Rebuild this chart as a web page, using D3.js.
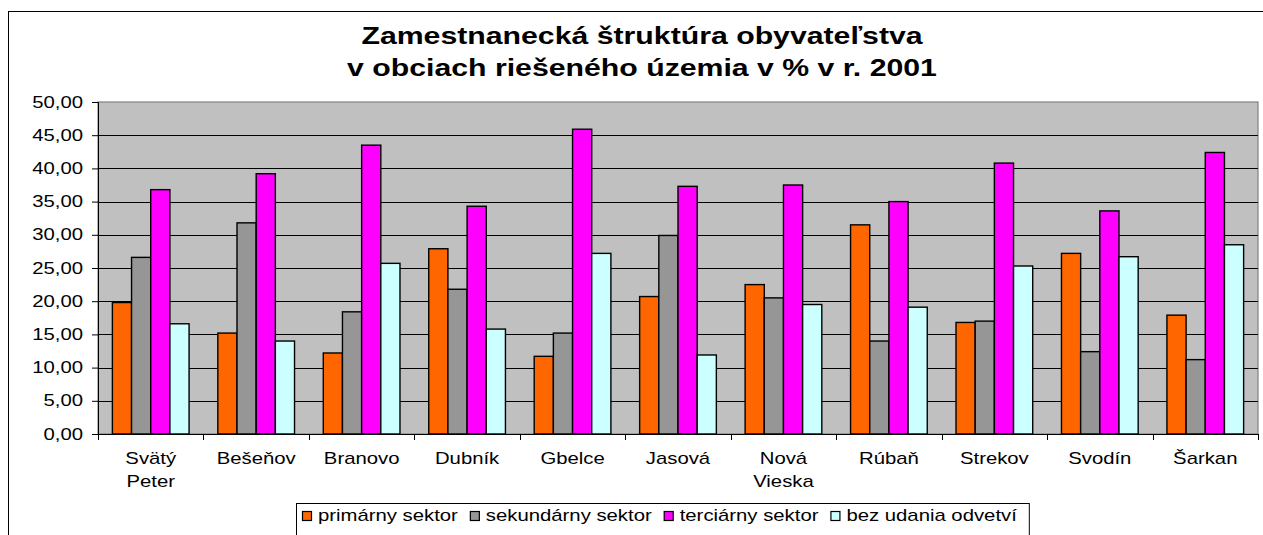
<!DOCTYPE html>
<html>
<head>
<meta charset="utf-8">
<script src="https://cdn.jsdelivr.net/npm/d3@7"></script>
<style>
  html, body { margin: 0; padding: 0; background: #fff; }
  svg { display: block; }
  text { font-family: "Liberation Sans", Arial, sans-serif; fill: #000; }
</style>
</head>
<body>
<svg id="chart" width="1263" height="535"></svg>
<script>
// ---- data ----
const titleLines = ["Zamestnanecká štruktúra obyvateľstva", "v obciach riešeného územia v % v r. 2001"];
const categories = ["Svätý Peter", "Bešeňov", "Branovo", "Dubník", "Gbelce", "Jasová", "Nová Vieska", "Rúbaň", "Strekov", "Svodín", "Šarkan"];
const seriesNames = ["primárny sektor", "sekundárny sektor", "terciárny sektor", "bez udania odvetví"];
const primarny   = [19.8, 15.2, 12.2, 27.9, 11.7, 20.7, 22.5, 31.5, 16.8, 27.2, 17.9];
const sekundarny = [26.6, 31.8, 18.4, 21.8, 15.2, 29.9, 20.5, 14.0, 17.0, 12.4, 11.2];
const terciarny  = [36.8, 39.2, 43.5, 34.3, 45.9, 37.3, 37.5, 35.0, 40.8, 33.6, 42.4];
const bezUdania  = [16.6, 14.0, 25.7, 15.8, 27.2, 11.9, 19.5, 19.1, 25.3, 26.7, 28.5];
const yTickValues = [0, 5, 10, 15, 20, 25, 30, 35, 40, 45, 50];
const seriesColors = ["#FF6600", "#969696", "#FF00FF", "#CCFFFF"];

const seriesValues = [primarny, sekundarny, terciarny, bezUdania];
const table = categories.map((c, i) => ({ cat: c, vals: seriesValues.map(s => s[i]) }));

// ---- layout ----
const svg = d3.select("#chart");
const plot = { left: 98, top: 102, right: 1258, bottom: 434 };
const SX = 1.27;   // horizontal stretch of the original text
const fmt = v => d3.format(".2f")(v).replace(".", ",");

// outer chart border
svg.append("rect").attr("x", 8.5).attr("y", 11.5).attr("width", 1300).attr("height", 600)
  .attr("fill", "#fff").attr("stroke", "#000").attr("stroke-width", 1);

// title
const titleG = svg.append("g");
titleLines.forEach((t, i) => {
  titleG.append("text")
    .attr("transform", `translate(642,${43.5 + i * 32.5}) scale(1.315,1)`)
    .attr("text-anchor", "middle")
    .style("font-size", "23px").style("font-weight", "bold")
    .text(t);
});

// scales
const x0 = d3.scaleBand().domain(categories).range([plot.left, plot.right]).padding(0);
const gapRatio = 1.5;
const barW = x0.bandwidth() / (seriesNames.length + gapRatio);
const x1 = d3.scaleBand().domain(d3.range(seriesNames.length))
  .range([barW * gapRatio / 2, x0.bandwidth() - barW * gapRatio / 2]).padding(0);
const y = d3.scaleLinear().domain([0, 50]).range([plot.bottom, plot.top]);

// plot background
svg.append("rect").attr("x", plot.left).attr("y", plot.top)
  .attr("width", plot.right - plot.left).attr("height", plot.bottom - plot.top)
  .attr("fill", "#C0C0C0").attr("stroke", "#808080").attr("stroke-width", 1.2);

// gridlines
svg.append("g").selectAll("line").data(yTickValues.filter(v => v > 0 && v < 50)).join("line")
  .attr("x1", plot.left).attr("x2", plot.right)
  .attr("y1", d => Math.round(y(d)) + 0.5).attr("y2", d => Math.round(y(d)) + 0.5)
  .attr("stroke", "#000").attr("stroke-width", 1);

// bars
const groups = svg.append("g").selectAll("g").data(table).join("g")
  .attr("transform", d => `translate(${x0(d.cat)},0)`);
groups.selectAll("rect").data(d => d.vals.map((v, i) => ({ v, i }))).join("rect")
  .attr("x", d => x1(d.i)).attr("width", x1.bandwidth())
  .attr("y", d => y(d.v)).attr("height", d => y(0) - y(d.v))
  .attr("fill", d => seriesColors[d.i])
  .attr("stroke", "#000").attr("stroke-width", 1.4);

// y axis
const yAxis = svg.append("g").attr("transform", `translate(${plot.left},0)`)
  .call(d3.axisLeft(y).tickValues(yTickValues).tickSize(6).tickFormat(""));
yAxis.select(".domain").attr("stroke", "#000");
yAxis.selectAll(".tick line").attr("stroke", "#000");
svg.append("g").selectAll("text").data(yTickValues).join("text")
  .attr("transform", d => `translate(83,${y(d) + 5.5}) scale(${SX},1)`)
  .attr("text-anchor", "end").style("font-size", "16px")
  .text(d => fmt(d));

// x axis
const xAxis = svg.append("g").attr("transform", `translate(0,${plot.bottom})`)
  .call(d3.axisBottom(x0).tickSize(0).tickFormat(""));
xAxis.select(".domain").attr("stroke", "#000");
svg.append("g").selectAll("line").data(categories.concat([null])).join("line")
  .attr("x1", (d, i) => Math.round(plot.left + i * x0.step()) + 0.5)
  .attr("x2", (d, i) => Math.round(plot.left + i * x0.step()) + 0.5)
  .attr("y1", plot.bottom).attr("y2", plot.bottom + 6)
  .attr("stroke", "#000");
const xl = svg.append("g").selectAll("g").data(categories).join("g")
  .attr("transform", d => `translate(${x0(d) + x0.bandwidth() / 2},0)`);
xl.each(function(d) {
  const words = d.split(" ");
  words.forEach((w, j) => {
    d3.select(this).append("text")
      .attr("transform", `translate(0,${464 + j * 22.5}) scale(${SX},1)`)
      .attr("text-anchor", "middle").style("font-size", "16px").text(w);
  });
});

// legend
const legend = svg.append("g");
const lx = 296, ly = 503;
const legBox = legend.append("rect").attr("x", lx + 0.5).attr("y", ly + 0.5)
  .attr("height", 60).attr("fill", "#fff").attr("stroke", "#000");
let cx = lx + 6;
seriesNames.forEach((name, i) => {
  legend.append("rect").attr("x", cx + 0.5).attr("y", 511.5).attr("width", 9).attr("height", 9)
    .attr("fill", seriesColors[i]).attr("stroke", "#000").attr("stroke-width", 1.2);
  cx += 16;
  const t = legend.append("text")
    .attr("transform", `translate(${cx},521) scale(${SX},1)`)
    .style("font-size", "16px").text(name);
  cx += t.node().getComputedTextLength() * SX + 12;
});
legBox.attr("width", cx - lx);
</script>
</body>
</html>
